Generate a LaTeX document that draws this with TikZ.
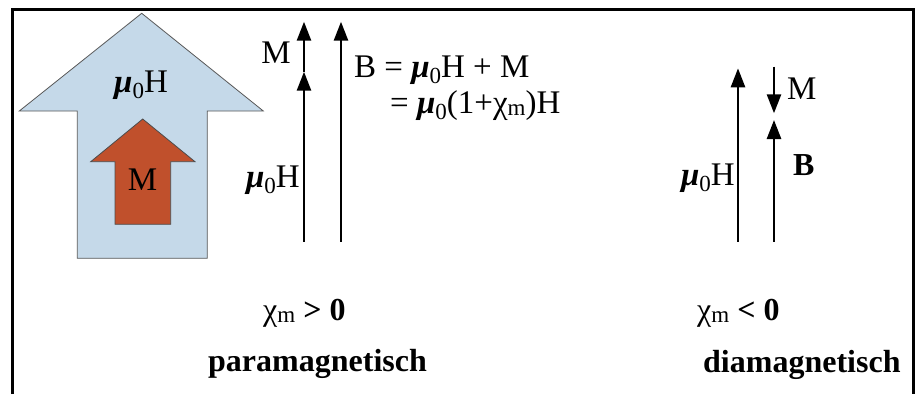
\documentclass[tikz,border=0pt]{standalone}
\usepackage{fontspec}
\setmainfont{Liberation Serif}
\usetikzlibrary{arrows.meta}
\definecolor{bigblue}{RGB}{197,217,233}
\definecolor{smallred}{RGB}{192,80,44}
\newcommand{\muz}{{\bfseries\itshape μ}\raisebox{-0.2em}{\fontsize{23}{23}\selectfont 0}}
\newcommand{\chim}{{\mdseries χ}\raisebox{-0.08em}{\fontsize{23}{23}\selectfont\mdseries m}}
\begin{document}
\begin{tikzpicture}[x=1pt,y=-1pt,
  lbl/.style={font=\fontsize{33}{38}\selectfont, inner sep=0pt},
  blbl/.style={font=\fontsize{32}{38}\selectfont\bfseries, inner sep=0pt},
  vec/.style={line width=2.6pt, -{Triangle[length=19pt,width=14pt]}},
  fatarrow/.style={line width=0.8pt, line join=miter}]
\useasboundingbox (0,0) rectangle (919,394);
\fill[white] (0,0) rectangle (919,394);
% frame
\draw[line width=3pt, line join=miter] (12.5,394) -- (12.5,9.5) -- (913.5,9.5) -- (913.5,394);
% big blue arrow
\draw[fatarrow, fill=bigblue, draw=black!65] (141.7,13.3) -- (263.3,111) -- (207.3,111) -- (207.3,258.3)
  -- (77.3,258.3) -- (77.3,111) -- (19.3,111) -- cycle;
\node[lbl, anchor=base] (bigH) at (141,92) {\muz H};
% red arrow
\draw[fatarrow, fill=smallred, draw=black!70] (142.7,119) -- (195,161.7) -- (170.7,161.7) -- (170.7,224.3)
  -- (115,224.3) -- (115,161.7) -- (90.7,161.7) -- cycle;
\node[lbl, anchor=base] (redM) at (142.5,190) {M};
% paramagnetic vectors
\coordinate (pa0) at (304,241.7);
\coordinate (pa1) at (304,71.7);
\coordinate (pa2) at (304,21.7);
\coordinate (pb0) at (341,241.7);
\coordinate (pb1) at (341,21.7);
\draw[vec] (pa0) -- (pa1);
\draw[vec] (pa1) -- (pa2);
\draw[vec] (pb0) -- (pb1);
\node[lbl, anchor=base east] (paM) at (291,63) {M};
\node[lbl, anchor=base east] (paH) at (300,187) {\muz H};
\node[lbl, anchor=base west] (eq1) at (354,77) {B = \muz H + M};
\node[lbl, anchor=base west] (eq2) at (390,113) {= \muz(1+\chim)H};
% diamagnetic vectors
\coordinate (da0) at (738,241.7);
\coordinate (da1) at (738,68.3);
\coordinate (dm0) at (774,66.7);
\coordinate (dm1) at (774,113.3);
\coordinate (db0) at (774,241.7);
\coordinate (db1) at (774,120);
\draw[vec] (da0) -- (da1);
\draw[vec] (dm0) -- (dm1);
\draw[vec] (db0) -- (db1);
\node[lbl, anchor=base west] (dM) at (787,99) {M};
\node[blbl, anchor=base west] (dB) at (793,175) {B};
\node[lbl, anchor=base east] (dH) at (735,185) {\muz H};
% bottom labels
\node[blbl, anchor=base west] (chp) at (263,320) {\chim{} > 0};
\node[blbl, anchor=base west] (para) at (208,371) {paramagnetisch};
\node[blbl, anchor=base west] (chd) at (697,320) {\chim{} < 0};
\node[blbl, anchor=base west] (dia) at (703,372) {diamagnetisch};
\end{tikzpicture}
\end{document}
